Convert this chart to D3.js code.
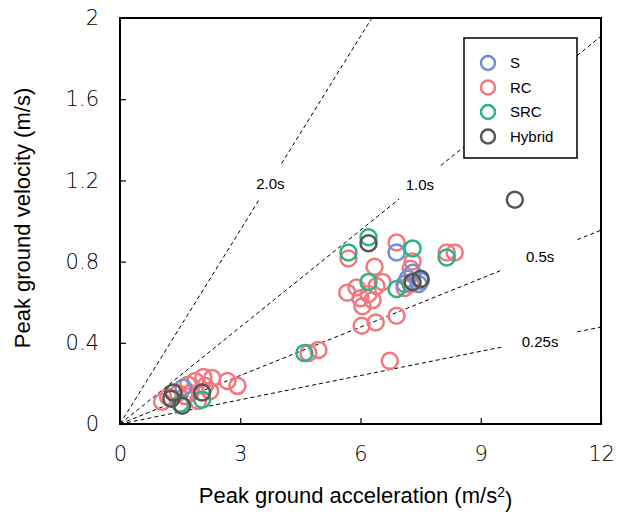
<!DOCTYPE html>
<html>
<head>
<meta charset="utf-8">
<script src="https://cdn.jsdelivr.net/npm/d3@7"></script>
<style>
  body { margin: 0; background: #fff; }
  text { font-family: "Liberation Sans", Arial, sans-serif; }
</style>
</head>
<body>
<script>
const width = 619;
const height = 519;
const marginTop = 18;
const marginRight = 18;
const marginBottom = 95;
const marginLeft = 120;

// tick values
const xTicks = [0, 3, 6, 9, 12];
const yTicks = [0, 0.4, 0.8, 1.2, 1.6, 2];

// period lines  v = a * T / (2*pi)
const periods = [2.0, 1.0, 0.5, 0.25];
const periodLabels = ["2.0s", "1.0s", "0.5s", "0.25s"];
const periodLabelX = [3.75, 7.48, 10.48, 10.48];   // where the label sits along the line (PGA)
const periodGap = [0.28, 0.52, 0.93, 0.93];     // half width of the gap in PGA units

// [PGA, PGV]
const rcData = [
  [1.05, 0.11], [1.2, 0.133], [1.45, 0.153], [1.7, 0.193], [1.88, 0.212],
  [2.08, 0.232], [2.3, 0.227], [2.12, 0.188], [2.68, 0.212], [2.93, 0.188],
  [1.95, 0.114], [1.75, 0.153], [2.25, 0.163], [1.62, 0.138],
  [5.7, 0.815], [6.9, 0.894], [7.3, 0.80], [7.25, 0.765], [6.35, 0.775],
  [8.15, 0.845], [8.35, 0.845], [5.67, 0.647], [5.9, 0.672], [6.0, 0.62],
  [6.05, 0.58], [6.2, 0.64], [6.4, 0.68], [6.55, 0.70], [6.3, 0.61],
  [6.38, 0.50], [6.03, 0.484], [6.9, 0.533], [6.73, 0.311], [4.7, 0.35],
  [4.95, 0.365], [7.1, 0.67], [7.25, 0.69]
];
const sData = [
  [6.9, 0.845], [7.3, 0.745], [7.18, 0.716], [7.5, 0.706], [7.1, 0.69],
  [7.45, 0.69], [1.58, 0.18]
];
const srcData = [
  [5.7, 0.845], [6.2, 0.92], [7.3, 0.865], [8.15, 0.82], [6.2, 0.70],
  [6.9, 0.665], [4.6, 0.35], [1.5, 0.10], [2.05, 0.12]
];
const hybridData = [
  [6.2, 0.89], [9.85, 1.105], [7.3, 0.70], [7.5, 0.715], [1.33, 0.155],
  [1.28, 0.125], [1.55, 0.09], [2.05, 0.155]
];

const seriesNames = ["S", "RC", "SRC", "Hybrid"];
const seriesColors = ["#6f8fd2", "#f2787e", "#28b487", "#555555"];
const drawOrder = [
  {data: rcData, color: seriesColors[1]},
  {data: sData, color: seriesColors[0]},
  {data: srcData, color: seriesColors[2]},
  {data: hybridData, color: seriesColors[3]}
];

const svg = d3.select("body").append("svg")
  .attr("width", width)
  .attr("height", height);

const x = d3.scaleLinear().domain([0, 12]).range([marginLeft, width - marginRight]);
const y = d3.scaleLinear().domain([0, 2]).range([height - marginBottom, marginTop]);

// dashed period lines with a gap for each label
periods.forEach((T, i) => {
  const k = T / (2 * Math.PI);
  const xEnd = Math.min(12, 2 / k);
  const a0 = periodLabelX[i] - periodGap[i];
  const a1 = Math.min(periodLabelX[i] + periodGap[i], xEnd);
  const segs = [[0, a0], [a1, xEnd]];
  segs.forEach(s => {
    if (s[1] <= s[0]) return;
    svg.append("line")
      .attr("x1", x(s[0])).attr("y1", y(s[0] * k))
      .attr("x2", x(s[1])).attr("y2", y(s[1] * k))
      .attr("stroke", "#000")
      .attr("stroke-width", 1)
      .attr("stroke-dasharray", "4,3");
  });
  svg.append("text")
    .attr("x", x(periodLabelX[i]))
    .attr("y", y(periodLabelX[i] * k) + 2)
    .attr("dy", "0.35em")
    .attr("text-anchor", "middle")
    .style("font-size", "15px")
    .text(periodLabels[i]);
});

// points
drawOrder.forEach(s => {
  svg.append("g").selectAll("circle")
    .data(s.data)
    .enter().append("circle")
      .attr("cx", d => x(d[0]))
      .attr("cy", d => y(d[1]))
      .attr("r", 8)
      .attr("fill", "none")
      .attr("stroke", s.color)
      .attr("stroke-width", 2.5);
});

// axes
const xAxis = svg.append("g")
  .attr("transform", `translate(0,${height - marginBottom})`)
  .call(d3.axisBottom(x).tickValues(xTicks).tickSizeInner(-6).tickSizeOuter(0).tickPadding(22).tickFormat(d3.format("d")));
const yAxis = svg.append("g")
  .attr("transform", `translate(${marginLeft},0)`)
  .call(d3.axisLeft(y).tickValues(yTicks).tickSizeInner(-6).tickSizeOuter(0).tickPadding(21).tickFormat(d => d === 0 || d === 2 ? d : d.toFixed(1)));

[xAxis, yAxis].forEach(g => {
  g.select(".domain").remove();
  g.selectAll(".tick line").attr("stroke", "#000").attr("stroke-width", 1.2);
  g.selectAll(".tick text")
    .attr("fill", "#000")
    .style("font-size", "21px")
    .style("font-family", "'DejaVu Sans', sans-serif")
    .style("font-weight", "200");
});

svg.append("rect")
  .attr("x", marginLeft).attr("y", marginTop)
  .attr("width", width - marginLeft - marginRight)
  .attr("height", height - marginTop - marginBottom)
  .attr("fill", "none")
  .attr("stroke", "#000")
  .attr("stroke-width", 2);

// axis titles
const xt = svg.append("text")
  .attr("x", (marginLeft + width - marginRight) / 2 - 5)
  .attr("y", 503)
  .attr("text-anchor", "middle")
  .style("font-size", "22px");
xt.append("tspan").text("Peak ground acceleration (m/s");
xt.append("tspan").attr("dy", "-0.45em").style("font-size", "14px").text("2");
xt.append("tspan").attr("dy", "0.45em").text(")");

svg.append("text")
  .attr("transform", `translate(30,218) rotate(-90)`)
  .attr("text-anchor", "middle")
  .style("font-size", "22px")
  .text("Peak ground velocity (m/s)");

// legend
const legend = svg.append("g").attr("transform", "translate(464,38)");
legend.append("rect")
  .attr("width", 113).attr("height", 120)
  .attr("fill", "#fff")
  .attr("stroke", "#000")
  .attr("stroke-width", 1.5);
seriesNames.forEach((name, i) => {
  const row = legend.append("g").attr("transform", `translate(0,${25 + i * 24.5})`);
  row.append("circle")
    .attr("cx", 24).attr("cy", 0).attr("r", 7)
    .attr("fill", "none")
    .attr("stroke", seriesColors[i])
    .attr("stroke-width", 2.5);
  row.append("text")
    .attr("x", 46).attr("dy", "0.36em")
    .style("font-size", "15px")
    .text(name);
});
</script>
</body>
</html>
